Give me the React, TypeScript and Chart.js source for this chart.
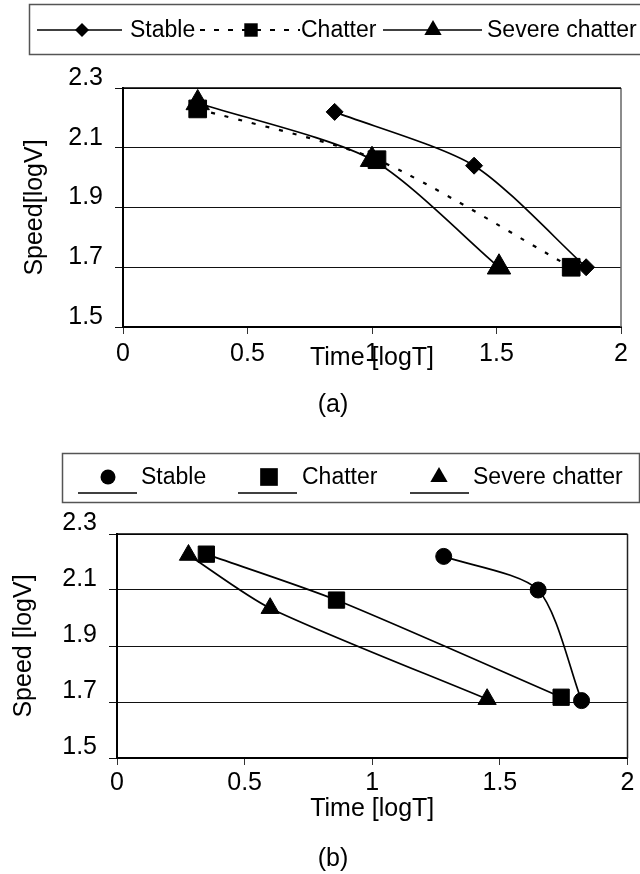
import React, { useEffect, useRef } from 'react';
import { Chart, registerables } from 'chart.js';

Chart.register(...registerables);

// ---------- data ----------
const X_TICKS = [0, 0.5, 1, 1.5, 2];
const X_TICK_LABELS = ['0', '0.5', '1', '1.5', '2'];
const Y_TICKS = [1.5, 1.7, 1.9, 2.1, 2.3];
const Y_TICK_LABELS = ['1.5', '1.7', '1.9', '2.1', '2.3'];

const SERIES_NAMES = ['Stable', 'Chatter', 'Severe chatter'];
const X_TITLE = 'Time [logT]';
const Y_TITLES = ['Speed[logV]', 'Speed [logV]'];
const CAPTIONS = ['(a)', '(b)'];

// panel (a)
const A_STABLE_T = [0.85, 1.41, 1.86];
const A_STABLE_V = [2.22, 2.04, 1.7];
const A_CHATTER_T = [0.3, 1.02, 1.8];
const A_CHATTER_V = [2.23, 2.06, 1.7];
const A_SEVERE_T = [0.3, 1.0, 1.51];
const A_SEVERE_V = [2.25, 2.06, 1.7];

// panel (b)
const B_STABLE_T = [1.28, 1.65, 1.82];
const B_STABLE_V = [2.22, 2.1, 1.705];
const B_CHATTER_T = [0.35, 0.86, 1.74];
const B_CHATTER_V = [2.228, 2.064, 1.717];
const B_SEVERE_T = [0.28, 0.6, 1.45];
const B_SEVERE_V = [2.225, 2.035, 1.71];

const FONT = "'Liberation Sans', Arial, Helvetica, sans-serif";

type Series = { t: number[]; v: number[]; style: string; radius: number; dash?: number[] };

function drawMarker(ctx: CanvasRenderingContext2D, style: string, x: number, y: number, r: number) {
  ctx.beginPath();
  if (style === 'rectRot') {
    ctx.moveTo(x - r, y);
    ctx.lineTo(x, y - r);
    ctx.lineTo(x + r, y);
    ctx.lineTo(x, y + r);
  } else if (style === 'rect') {
    const s = r * Math.SQRT1_2;
    ctx.rect(x - s, y - s, 2 * s, 2 * s);
  } else if (style === 'triangle') {
    ctx.moveTo(x, y - r);
    ctx.lineTo(x + 0.866 * r, y + 0.5 * r);
    ctx.lineTo(x - 0.866 * r, y + 0.5 * r);
  } else {
    ctx.arc(x, y, r, 0, Math.PI * 2);
  }
  ctx.closePath();
  ctx.fillStyle = '#000';
  ctx.fill();
}

type LegendItem = { x0: number; x1: number; mx: number; tx: number; style: string; r: number; dash?: number[] };

type PanelDef = {
  series: Series[];
  yTitle: string;
  caption: string;
  captionY: number;
  areaLeft: number;
  padRight: number;
  padTop: number;
  xAxisHeight: number;
  yTitlePad: number;
  xTitlePadBottom: number;
  xTickPad: number;
  yLabelOffset: number;
  box: [number, number, number, number];
  lineY: number;
  markerY: number;
  items: LegendItem[];
  rightBorderColor: string;
};

const PANEL_A: PanelDef = {
  series: [
    { t: A_STABLE_T, v: A_STABLE_V, style: 'rectRot', radius: 8.5 },
    { t: A_CHATTER_T, v: A_CHATTER_V, style: 'rect', radius: 12.5, dash: [4, 10] },
    { t: A_SEVERE_T, v: A_SEVERE_V, style: 'triangle', radius: 13.5 },
  ],
  yTitle: Y_TITLES[0],
  caption: CAPTIONS[0],
  captionY: 405,
  areaLeft: 123,
  padRight: 19,
  padTop: 88,
  xAxisHeight: 110,
  yTitlePad: 20,
  xTitlePadBottom: 64,
  xTickPad: 5,
  yLabelOffset: -10,
  box: [29.5, 4.5, 640, 50],
  lineY: 30,
  markerY: 30,
  items: [
    { x0: 37, x1: 122, mx: 82, tx: 130, style: 'rectRot', r: 7 },
    { x0: 200, x1: 300, mx: 251, tx: 301, style: 'rect', r: 9.5, dash: [5, 9] },
    { x0: 383, x1: 482, mx: 433, tx: 487, style: 'triangle', r: 10 },
  ],
  rightBorderColor: '#666',
};

const PANEL_B: PanelDef = {
  series: [
    { t: B_STABLE_T, v: B_STABLE_V, style: 'circle', radius: 8 },
    { t: B_CHATTER_T, v: B_CHATTER_V, style: 'rect', radius: 11.5 },
    { t: B_SEVERE_T, v: B_SEVERE_V, style: 'triangle', radius: 10.5 },
  ],
  yTitle: Y_TITLES[1],
  caption: CAPTIONS[1],
  captionY: 422,
  areaLeft: 117,
  padRight: 9,
  padTop: 97,
  xAxisHeight: 116,
  yTitlePad: 9,
  xTitlePadBottom: 50,
  xTickPad: 3,
  yLabelOffset: -11,
  box: [62.5, 16.5, 577, 49],
  lineY: 56,
  markerY: 40,
  items: [
    { x0: 78, x1: 137, mx: 108, tx: 141, style: 'circle', r: 7.5 },
    { x0: 238, x1: 297, mx: 269, tx: 302, style: 'rect', r: 12.5 },
    { x0: 410, x1: 469, mx: 439, tx: 473, style: 'triangle', r: 10 },
  ],
  rightBorderColor: '#222',
};

function makeConfig(p: PanelDef): any {
  const datasets = p.series.map((s, i) => ({
    label: SERIES_NAMES[i],
    data: s.t.map((t, k) => ({ x: t, y: s.v[k] })),
    borderColor: '#000',
    backgroundColor: '#000',
    borderWidth: s.dash ? 2.2 : 1.7,
    borderDash: s.dash || [],
    pointStyle: s.style,
    pointRadius: s.radius,
    pointHoverRadius: s.radius,
    pointBackgroundColor: '#000',
    pointBorderColor: '#000',
    pointBorderWidth: 1,
    tension: 0.25,
    fill: false,
    clip: false,
  }));

  const extras = {
    id: 'extras',
    beforeDatasetsDraw(chart: any) {
      const { ctx, chartArea } = chart;
      ctx.save();
      ctx.lineWidth = 1.5;
      ctx.strokeStyle = p.rightBorderColor;
      ctx.beginPath();
      ctx.moveTo(chartArea.right, chartArea.top);
      ctx.lineTo(chartArea.right, chartArea.bottom);
      ctx.stroke();
      ctx.strokeStyle = '#000';
      ctx.beginPath();
      ctx.moveTo(chartArea.left, chartArea.top);
      ctx.lineTo(chartArea.right, chartArea.top);
      ctx.stroke();
      ctx.restore();
    },
    afterDraw(chart: any) {
      const ctx: CanvasRenderingContext2D = chart.ctx;
      ctx.save();
      // legend box
      ctx.strokeStyle = '#555';
      ctx.lineWidth = 1.5;
      const [bx, by, bw, bh] = p.box;
      ctx.strokeRect(bx, by, bw, bh);
      ctx.font = `23px ${FONT}`;
      ctx.textBaseline = 'middle';
      ctx.textAlign = 'left';
      p.items.forEach((it, i) => {
        ctx.strokeStyle = '#000';
        ctx.lineWidth = it.dash ? 2.2 : 1.7;
        ctx.setLineDash(it.dash || []);
        ctx.beginPath();
        ctx.moveTo(it.x0, p.lineY);
        ctx.lineTo(it.x1, p.lineY);
        ctx.stroke();
        ctx.setLineDash([]);
        drawMarker(ctx, it.style, it.mx, p.markerY, it.r);
        ctx.fillStyle = '#000';
        ctx.fillText(SERIES_NAMES[i], it.tx, p.markerY + 1);
      });
      // caption
      ctx.font = `25px ${FONT}`;
      ctx.textAlign = 'center';
      ctx.fillText(p.caption, 333, p.captionY);
      ctx.restore();
    },
  };

  return {
    type: 'line',
    data: { datasets },
    plugins: [extras],
    options: {
      animation: false,
      responsive: false,
      maintainAspectRatio: false,
      events: [],
      layout: { padding: { left: 0, right: p.padRight, top: p.padTop, bottom: 0 } },
      plugins: { legend: { display: false }, tooltip: { enabled: false } },
      scales: {
        x: {
          type: 'linear',
          min: 0,
          max: 2,
          afterBuildTicks: (s: any) => {
            s.ticks = X_TICKS.map((v) => ({ value: v }));
          },
          afterFit: (s: any) => {
            s.height = p.xAxisHeight;
          },
          ticks: {
            color: '#000',
            font: { family: FONT, size: 25 },
            padding: p.xTickPad,
            maxRotation: 0,
            autoSkip: false,
            callback: (v: number) => {
              const i = X_TICKS.indexOf(v);
              return i >= 0 ? X_TICK_LABELS[i] : '';
            },
          },
          grid: { drawOnChartArea: false, drawTicks: true, tickLength: 7, color: '#333', lineWidth: 1 },
          border: { display: true, color: '#000', width: 2 },
          title: {
            display: true,
            text: X_TITLE,
            color: '#000',
            font: { family: FONT, size: 25 },
            padding: { top: 0, bottom: p.xTitlePadBottom },
          },
        },
        y: {
          type: 'linear',
          min: 1.5,
          max: 2.3,
          afterBuildTicks: (s: any) => {
            s.ticks = Y_TICKS.map((v) => ({ value: v }));
          },
          afterFit: (s: any) => {
            s.width = p.areaLeft;
          },
          ticks: {
            color: '#000',
            font: { family: FONT, size: 25 },
            padding: 12,
            labelOffset: p.yLabelOffset,
            autoSkip: false,
            callback: (v: number) => {
              const i = Y_TICKS.findIndex((t) => Math.abs(t - v) < 1e-6);
              return i >= 0 ? Y_TICK_LABELS[i] : '';
            },
          },
          grid: { drawOnChartArea: true, drawTicks: true, tickLength: 8, color: '#111', lineWidth: 1 },
          border: { display: true, color: '#000', width: 2 },
          title: {
            display: true,
            text: p.yTitle,
            color: '#000',
            font: { family: FONT, size: 25 },
            padding: { top: p.yTitlePad, bottom: 0 },
          },
        },
      },
    },
  };
}

function Panel({ def, top }: { def: PanelDef; top: number }) {
  const ref = useRef<HTMLCanvasElement | null>(null);
  useEffect(() => {
    if (!ref.current) return;
    const chart = new Chart(ref.current, makeConfig(def));
    return () => chart.destroy();
  }, [def]);
  return (
    <canvas
      ref={ref}
      width={640}
      height={437}
      style={{ position: 'absolute', left: 0, top, width: 640, height: 437, display: 'block' }}
    />
  );
}

export default function App() {
  return (
    <div style={{ position: 'absolute', left: 0, top: 0, width: 640, height: 874, background: '#fff' }}>
      <Panel def={PANEL_A} top={0} />
      <Panel def={PANEL_B} top={437} />
    </div>
  );
}
